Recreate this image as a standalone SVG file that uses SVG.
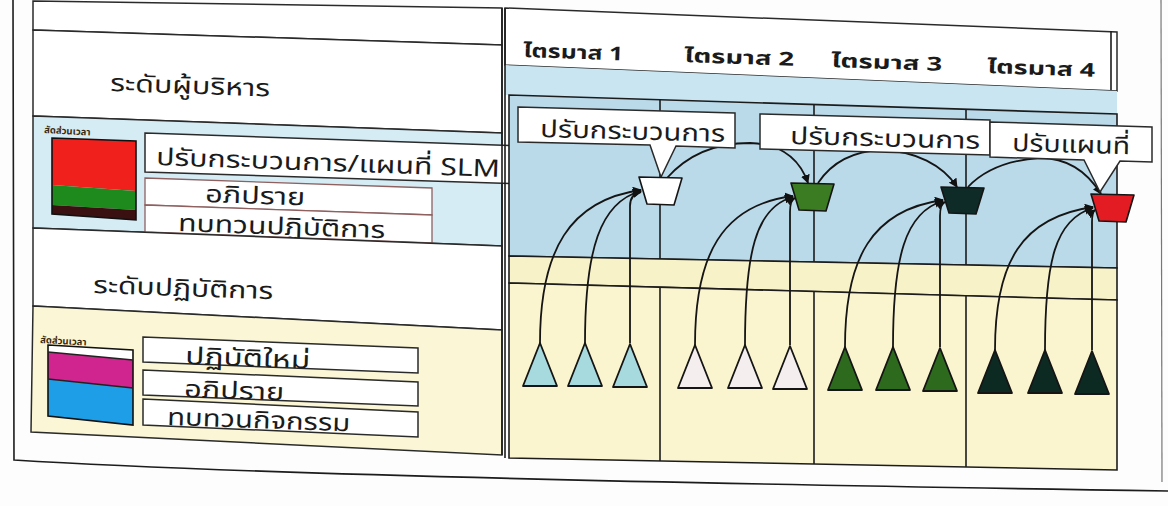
<svg xmlns="http://www.w3.org/2000/svg" width="1168" height="506" viewBox="0 0 1168 506">
  <defs>
    <style>
      .ln{fill:none;stroke:#1c1c1c;stroke-width:1.6}
      .bx{fill:#ffffff;stroke:#2a2a2a;stroke-width:1.5}
      .pbx{fill:#ffffff;stroke:#8e6060;stroke-width:1.3}
      .tx{font-family:"Noto Sans Thai","Tahoma","Liberation Sans","DejaVu Sans",sans-serif;fill:#1b1b1b}
      .big{font-size:24px}
      .hd{font-size:19px;font-weight:bold}
      .sm{font-size:9.5px;font-weight:bold;fill:#3a2a10}
      .arc{fill:none;stroke:#151515;stroke-width:1.8}
      .tri{stroke:#151515;stroke-width:1.8;stroke-linejoin:round}
      .cup{stroke:#151515;stroke-width:1.6;stroke-linejoin:round}
    </style>
    <marker id="ah" viewBox="0 0 10 10" refX="9" refY="5" markerWidth="5" markerHeight="5" orient="auto">
      <path d="M0,0 L10,5 L0,10 Z" fill="#111"/>
    </marker>
  </defs>

  <!-- page -->
  <rect width="1168" height="506" fill="#fdfdfd"/>
  <path class="ln" d="M13,0 L14,460 Q300,478 1168,491" stroke-width="1.8"/>
  <path d="M1161,0 L1162,482" fill="none" stroke="#777" stroke-width="1.2"/>

  <!-- left column bands -->
  <g id="exec-level">
    <path class="bx" d="M33,1 L502,8 L502,45 L33,30 Z"/>
    <path class="bx" d="M33,30 L502,45 L502,133 L33,116 Z"/>
    <text class="tx big" x="110" y="91" textLength="160" lengthAdjust="spacingAndGlyphs" transform="rotate(2 110 91)">ระดับผู้บริหาร</text>
  </g>
  <g id="exec-legend">
    <path d="M33,116 L502,133 L502,246 L33,228 Z" fill="#d5ecf5" stroke="#2a2a2a" stroke-width="1.5"/>
    <text class="tx sm" x="44" y="133" transform="rotate(3 44 133)">สัดส่วนเวลา</text>
    <path d="M52,138 L136,141 L136,191 L52,185 Z" fill="#f0201c"/>
    <path d="M52,185 L136,191 L136,210 L52,205 Z" fill="#1e8a1e"/>
    <path d="M52,205 L136,210 L136,220 L52,214 Z" fill="#3a1010"/>
    <path d="M52,138 L136,141 L136,220 L52,214 Z" fill="none" stroke="#111" stroke-width="1.6"/>
    <path class="bx" d="M145,133 L523,146 L523,184 L145,172 Z"/>
    <text class="tx big" x="156" y="165" textLength="344" lengthAdjust="spacingAndGlyphs" transform="rotate(2 156 165)">ปรับกระบวนการ/แผนที่ SLM</text>
    <path class="pbx" d="M145,178 L432,188 L432,215 L145,205 Z"/>
    <text class="tx big" x="205" y="202" textLength="100" lengthAdjust="spacingAndGlyphs" transform="rotate(2 205 202)">อภิปราย</text>
    <path class="pbx" d="M145,205 L432,215 L432,243 L145,232 Z"/>
    <text class="tx big" x="178" y="231" textLength="207" lengthAdjust="spacingAndGlyphs" transform="rotate(2 178 231)">ทบทวนปฏิบัติการ</text>
  </g>
  <g id="ops-level">
    <path class="bx" d="M33,228 L502,246 L502,330 L33,306 Z"/>
    <text class="tx big" x="93" y="293" textLength="180" lengthAdjust="spacingAndGlyphs" transform="rotate(2 93 293)">ระดับปฏิบัติการ</text>
  </g>
  <g id="ops-legend">
    <path d="M33,306 L502,330 L502,455 L31,432 Z" fill="#fbf7d6" stroke="#2a2a2a" stroke-width="1.5"/>
    <text class="tx sm" x="40" y="343" transform="rotate(3 40 343)">สัดส่วนเวลา</text>
    <path d="M48,345 L133,350 L133,360 L48,352 Z" fill="#ffffff"/>
    <path d="M48,352 L133,360 L133,388 L48,379 Z" fill="#d0248e"/>
    <path d="M48,379 L133,388 L133,425 L48,416 Z" fill="#1e9ee6"/>
    <path d="M48,345 L133,350 L133,425 L48,416 Z" fill="none" stroke="#111" stroke-width="1.6"/>
    <path d="M48,352 L133,360 M48,379 L133,388" fill="none" stroke="#222" stroke-width="1.4"/>
    <path class="bx" d="M143,337 L418,348 L418,373 L143,362 Z"/>
    <text class="tx big" x="185" y="364" textLength="125" lengthAdjust="spacingAndGlyphs" transform="rotate(2 185 364)">ปฏิบัติใหม่</text>
    <path class="bx" d="M143,370 L418,382 L418,406 L143,395 Z"/>
    <text class="tx big" x="184" y="397" textLength="100" lengthAdjust="spacingAndGlyphs" transform="rotate(2 184 397)">อภิปราย</text>
    <path class="bx" d="M143,399 L418,412 L418,437 L143,425 Z"/>
    <text class="tx big" x="167" y="425" textLength="183" lengthAdjust="spacingAndGlyphs" transform="rotate(2 167 425)">ทบทวนกิจกรรม</text>
  </g>

  <!-- quarter header -->
  <g id="quarter-header">
    <path class="bx" d="M505,8 L1117,32 L1117,91 L505,65 Z"/>
    <path class="ln" d="M1111,31 L1111,90"/>
    <text class="tx hd" x="523" y="57" textLength="100" lengthAdjust="spacingAndGlyphs" transform="rotate(2 523 57)">ไตรมาส 1</text>
    <text class="tx hd" x="684" y="62" textLength="110" lengthAdjust="spacingAndGlyphs" transform="rotate(2 684 62)">ไตรมาส 2</text>
    <text class="tx hd" x="831" y="67" textLength="111" lengthAdjust="spacingAndGlyphs" transform="rotate(2 831 67)">ไตรมาส 3</text>
    <text class="tx hd" x="987" y="73" textLength="108" lengthAdjust="spacingAndGlyphs" transform="rotate(2 987 73)">ไตรมาส 4</text>
  </g>

  <!-- quarter grid -->
  <g id="quarter-grid">
    <path d="M505,65 L1117,91 L1117,114 L505,95 Z" fill="#c9e5f1"/>
    <path d="M509,95 L1117,114 L1117,268 L509,256 Z" fill="#bad9e9" stroke="#1c1c1c" stroke-width="1.6"/>
    <path d="M509,256 L1117,268 L1117,300 L509,283 Z" fill="#f8f2c8" stroke="#1c1c1c" stroke-width="1.6"/>
    <path d="M509,283 L1117,300 L1117,470 L509,458 Z" fill="#faf5cf" stroke="#1c1c1c" stroke-width="1.6"/>
    <path class="ln" d="M660,100 L660,259 M660,287 L660,461 M814,105 L814,262 M814,292 L814,464 M966,110 L966,265 M966,296 L966,467"/>
    <path class="ln" d="M502,8 L502,455 M505,8 L505,458"/>
  </g>

  <!-- connectors -->
  <g id="connectors">
    <path class="arc" marker-end="url(#ah)" d="M540,343 C540,250 570,200 641,190"/>
    <path class="arc" marker-end="url(#ah)" d="M585,343 C585,250 600,202 641,191"/>
    <path class="arc" marker-end="url(#ah)" d="M630,343 L630,206 Q630,194 641,192"/>
    <path class="arc" marker-end="url(#ah)" d="M695,345 C695,255 722,205 793,196"/>
    <path class="arc" marker-end="url(#ah)" d="M745,345 C745,255 755,207 793,197"/>
    <path class="arc" marker-end="url(#ah)" d="M790,345 L790,212 Q790,200 795,198"/>
    <path class="arc" marker-end="url(#ah)" d="M845,347 C845,258 872,210 943,200"/>
    <path class="arc" marker-end="url(#ah)" d="M893,347 C893,258 905,212 943,201"/>
    <path class="arc" marker-end="url(#ah)" d="M940,347 L940,216 Q940,204 945,202"/>
    <path class="arc" marker-end="url(#ah)" d="M995,350 C995,262 1022,217 1093,207"/>
    <path class="arc" marker-end="url(#ah)" d="M1045,350 C1045,262 1055,219 1093,208"/>
    <path class="arc" marker-end="url(#ah)" d="M1092,350 L1092,222 Q1092,212 1095,210"/>
    <path class="arc" marker-end="url(#ah)" d="M667,178 C690,152 718,143 750,143 C782,144 800,160 808,183"/>
    <path class="arc" marker-end="url(#ah)" d="M818,183 C832,162 852,151 882,150 C915,151 943,165 957,187"/>
    <path class="arc" marker-end="url(#ah)" d="M968,187 C985,169 1010,160 1040,158 C1068,158 1088,173 1101,194"/>
  </g>

  <!-- callouts -->
  <g id="callout-1">
    <path class="bx" d="M518,107 L735,113 L735,148 L676,146 L661,177 L650,145 L518,142 Z"/>
    <text class="tx big" x="540" y="137" textLength="185" lengthAdjust="spacingAndGlyphs" transform="rotate(1.5 540 137)">ปรับกระบวนการ</text>
  </g>
  <g id="callout-2">
    <path class="bx" d="M760,114 L990,120 L990,155 L760,149 Z"/>
    <text class="tx big" x="790" y="144" textLength="190" lengthAdjust="spacingAndGlyphs" transform="rotate(1.5 790 144)">ปรับกระบวนการ</text>
  </g>
  <g id="callout-3">
    <path class="bx" d="M990,122 L1152,127 L1152,162 L1120,161 L1100,192 L1084,160 L990,157 Z"/>
    <text class="tx big" x="1012" y="151" textLength="118" lengthAdjust="spacingAndGlyphs" transform="rotate(1.5 1012 151)">ปรับแผนที่</text>
  </g>

  <!-- quarterly review cups -->
  <g id="cup-q1"><path class="cup" fill="#ffffff" d="M639,177 L682,178 L674,205 L647,204 Z"/></g>
  <g id="cup-q2"><path class="cup" fill="#3b7b22" d="M791,183 L834,184 L826,211 L799,210 Z"/></g>
  <g id="cup-q3"><path class="cup" fill="#0e2b27" d="M941,187 L984,188 L976,214 L949,213 Z"/></g>
  <g id="cup-q4"><path class="cup" fill="#e31b23" d="M1091,194 L1134,195 L1126,222 L1099,221 Z"/></g>

  <!-- operational activities -->
  <g id="acts-q1" fill="#a6dadf">
    <path class="tri" d="M540,343 L557,386 L523,386 Z"/>
    <path class="tri" d="M585,343 L602,386 L568,386 Z"/>
    <path class="tri" d="M630,344 L647,387 L613,387 Z"/>
  </g>
  <g id="acts-q2" fill="#f4eeee">
    <path class="tri" d="M695,345 L712,388 L678,388 Z"/>
    <path class="tri" d="M745,345 L762,388 L728,388 Z"/>
    <path class="tri" d="M790,346 L807,389 L773,389 Z"/>
  </g>
  <g id="acts-q3" fill="#2e6a1e">
    <path class="tri" d="M845,347 L862,390 L828,390 Z"/>
    <path class="tri" d="M893,347 L910,390 L876,390 Z"/>
    <path class="tri" d="M940,348 L957,391 L923,391 Z"/>
  </g>
  <g id="acts-q4" fill="#0d2a22">
    <path class="tri" d="M995,350 L1012,393 L978,393 Z"/>
    <path class="tri" d="M1045,350 L1062,393 L1028,393 Z"/>
    <path class="tri" d="M1092,351 L1109,394 L1075,394 Z"/>
  </g>
</svg>
